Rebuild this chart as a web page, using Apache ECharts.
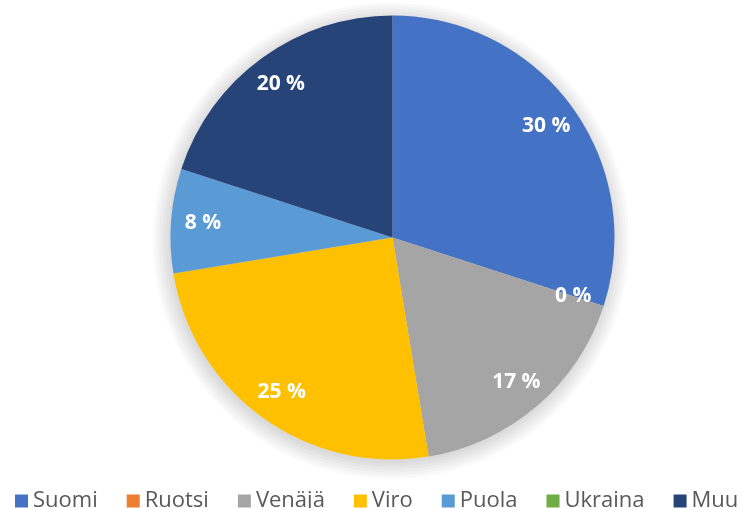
<!DOCTYPE html>
<html>
<head>
<meta charset="utf-8">
<script src="https://cdn.jsdelivr.net/npm/echarts@6/dist/echarts.min.js"></script>
<style>
html,body{margin:0;padding:0;background:#fff;}
#main{width:747px;height:508px;}
</style>
</head>
<body>
<div id="main"></div>
<script>
var categories = ['Suomi', 'Ruotsi', 'Venäjä', 'Viro', 'Puola', 'Ukraina', 'Muu'];
var values = [30, 0, 17.4, 25, 7.6, 0, 20];
var colors = ['#4472C4', '#ED7D31', '#A5A5A5', '#FFC000', '#5B9BD5', '#70AD47', '#264478'];
var hiddenLabels = ['Ukraina'];

var chart = echarts.init(document.getElementById('main'), null, {renderer: 'canvas'});

var pieData = categories.map(function (c, i) {
  return {name: c, value: values[i], itemStyle: {color: colors[i]}};
});
var labelData = categories.map(function (c, i) {
  return {
    name: c, value: values[i],
    label: {show: hiddenLabels.indexOf(c) < 0}
  };
});

var center = [392.5, 237.5];
var shadowCenter = [391, 240.5];
var glowSteps = [223, 226, 229, 232, 235, 238];

var series = glowSteps.map(function (r) {
  return {
    type: 'pie',
    silent: true,
    center: shadowCenter,
    radius: [0, r],
    z: 1,
    label: {show: false},
    labelLine: {show: false},
    itemStyle: {color: 'rgba(0,0,0,0.022)', borderWidth: 0},
    data: [{name: 'glow', value: 1}]
  };
});

series.push({
  type: 'pie',
  center: center,
  radius: [0, 222],
  startAngle: 90,
  clockwise: true,
  z: 2,
  label: {show: false},
  labelLine: {show: false},
  itemStyle: {borderWidth: 0},
  data: pieData
});

series.push({
  type: 'pie',
  silent: true,
  center: center,
  radius: [152, 222],
  startAngle: 90,
  clockwise: true,
  z: 3,
  itemStyle: {color: 'rgba(0,0,0,0)', borderWidth: 0},
  label: {
    show: true,
    position: 'inside',
    color: '#ffffff',
    fontSize: 21,
    fontWeight: 'bold',
    fontFamily: 'Open Sans',
    formatter: function (p) { return Math.round(p.value) + ' %'; }
  },
  labelLine: {show: false},
  data: labelData
});

chart.setOption({
  backgroundColor: '#ffffff',
  animation: false,
  legend: {
    data: categories,
    top: 485,
    left: 10,
    width: 740,
    itemWidth: 13,
    itemHeight: 13,
    itemGap: 29,
    icon: 'rect',
    textStyle: {color: '#595959', fontSize: 22, fontFamily: 'Open Sans'},
    selectedMode: false
  },
  series: series
});
</script>
</body>
</html>
